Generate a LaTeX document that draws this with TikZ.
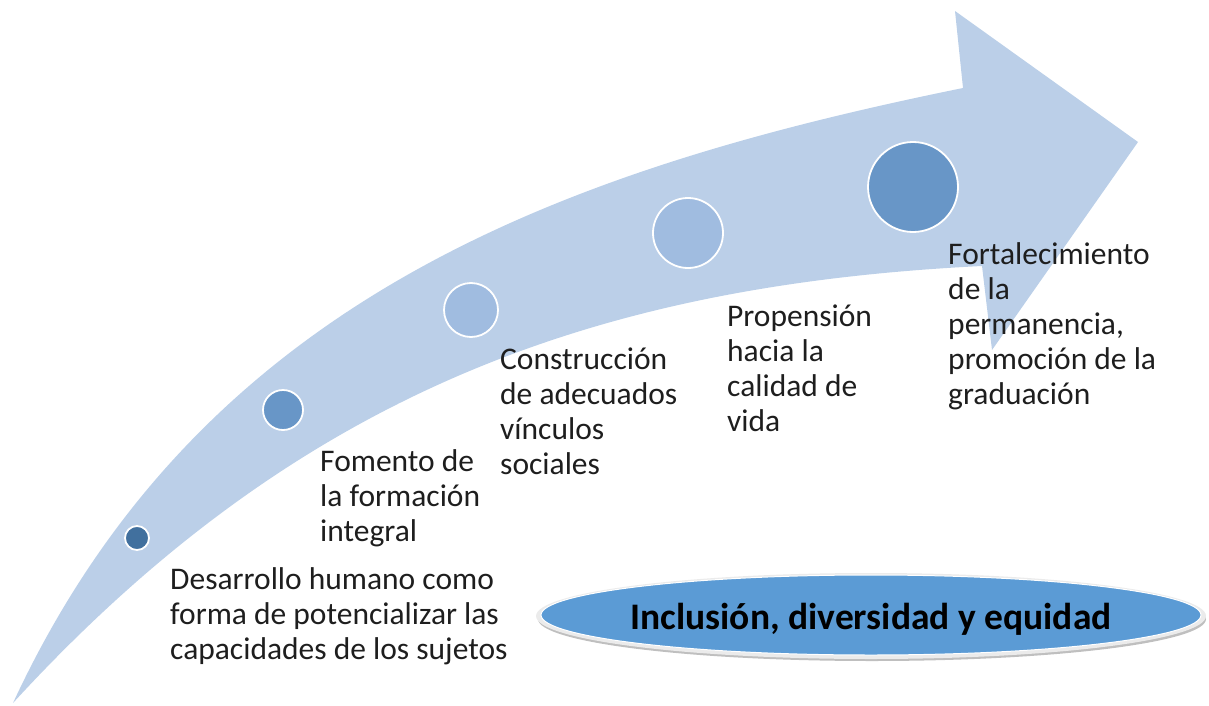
\documentclass[tikz,border=0pt]{standalone}
\usepackage{fontspec}
\setmainfont{Carlito}
\usetikzlibrary{shapes.geometric}
\definecolor{arrowfill}{HTML}{BBCFE8}
\definecolor{cdark}{HTML}{41709E}
\definecolor{cmid}{HTML}{6896C7}
\definecolor{clight}{HTML}{A0BCE0}
\definecolor{ellfill}{HTML}{5B9BD5}
\definecolor{txt}{HTML}{1E1E1E}
\tikzset{
  dot/.style={circle, draw=white, line width=1.8pt, inner sep=0pt},
  lbl/.style={anchor=base west, align=left, inner sep=0pt, text=txt,
    font=\fontsize{31.5}{35}\selectfont},
}
\begin{document}
\begin{tikzpicture}[x=1pt,y=-1pt]
\useasboundingbox (0,0) rectangle (1209,706);
% big curved arrow
\fill[arrowfill] (13,703) .. controls (200,300) and (560,170) .. (963,88)
  -- (955,11) -- (1138,142) -- (992,350) -- (982,266)
  .. controls (600,285) and (300,390) .. (13,703) -- cycle;
% circles
\node[dot, fill=cdark, minimum size=24pt] (c1) at (137,538) {};
\node[dot, fill=cmid, minimum size=40pt] (c2) at (283,410) {};
\node[dot, fill=clight, minimum size=54pt] (c3) at (471,310) {};
\node[dot, fill=clight, minimum size=70pt] (c4) at (688,233) {};
\node[dot, fill=cmid, minimum size=90pt] (c5) at (913,187) {};
% labels (anchor = baseline of last line)
\node[lbl] (t1) at (170,659) {Desarrollo humano como\\forma de potencializar las\\capacidades de los sujetos};
\node[lbl] (t2) at (320,541) {Fomento de\\la formación\\integral};
\node[lbl] (t3) at (500,474) {Construcción\\de adecuados\\vínculos\\sociales};
\node[lbl] (t4) at (727,431) {Propensión\\hacia la\\calidad de\\vida};
\node[lbl] (t5) at (948,404) {Fortalecimiento\\de la\\permanencia,\\promoción de la\\graduación};
% ellipse
\fill[black!25] (872,619) ellipse [x radius=334, y radius=42];
\fill[black!8] (871,616) ellipse [x radius=335, y radius=43];
\node[ellipse, fill=ellfill, draw=white, line width=1pt, minimum width=660pt, minimum height=80pt, inner sep=0pt] (e) at (871,615) {};
\node[font=\fontsize{37.5}{42}\selectfont\bfseries, text=black, anchor=base] (et) at (871,629) {Inclusión, diversidad y equidad};
\end{tikzpicture}
\end{document}
